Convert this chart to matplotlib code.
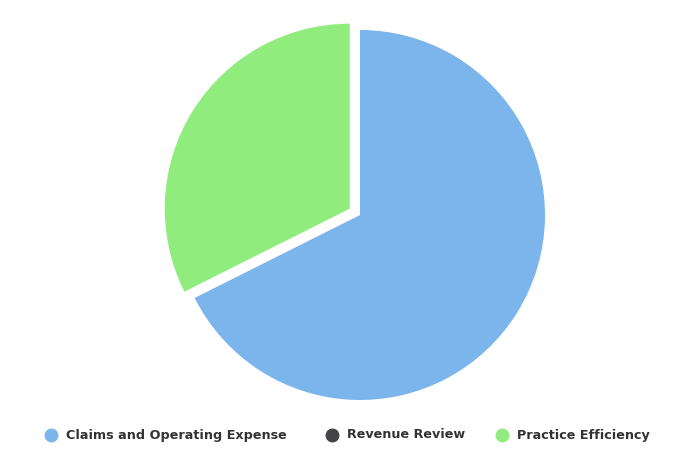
import matplotlib
matplotlib.use("Agg")
import matplotlib.pyplot as plt

categories = ["Claims and Operating Expense", "Revenue Review", "Practice Efficiency"]
values = [67.6, 0.0, 32.4]
colors = ["#7cb5ec", "#434348", "#90ed7d"]
explode = [0.0, 0.0, 0.065]

W, H = 700, 467
fig = plt.figure(figsize=(W / 100, H / 100), dpi=100)

# pie axes: centre at (360, 215) px, radius 185 px
cx, cy, r = 360, 215, 185
half = 200
ax = fig.add_axes([(cx - half) / W, (H - cy - half) / H, 2 * half / W, 2 * half / H])
ax.pie(values, colors=colors, explode=explode, startangle=90, counterclock=False,
       radius=1.0, wedgeprops=dict(linewidth=0))
lim = half / r
ax.set_xlim(-lim, lim)
ax.set_ylim(-lim, lim)
ax.set_aspect("equal")
ax.axis("off")

# legend overlay in pixel coords
lax = fig.add_axes([0, 0, 1, 1])
lax.set_xlim(0, W)
lax.set_ylim(H, 0)
lax.axis("off")
marker_x = [51, 332, 502]
ly = 435
for mx, lab, col in zip(marker_x, categories, colors):
    lax.plot([mx], [ly], marker="o", markersize=9, color=col, linestyle="none")
    lax.text(mx + 15, ly, lab, fontsize=9.2, fontweight="bold", color="#333333",
             ha="left", va="center", family="DejaVu Sans")

fig.savefig("out.png", dpi=100)
